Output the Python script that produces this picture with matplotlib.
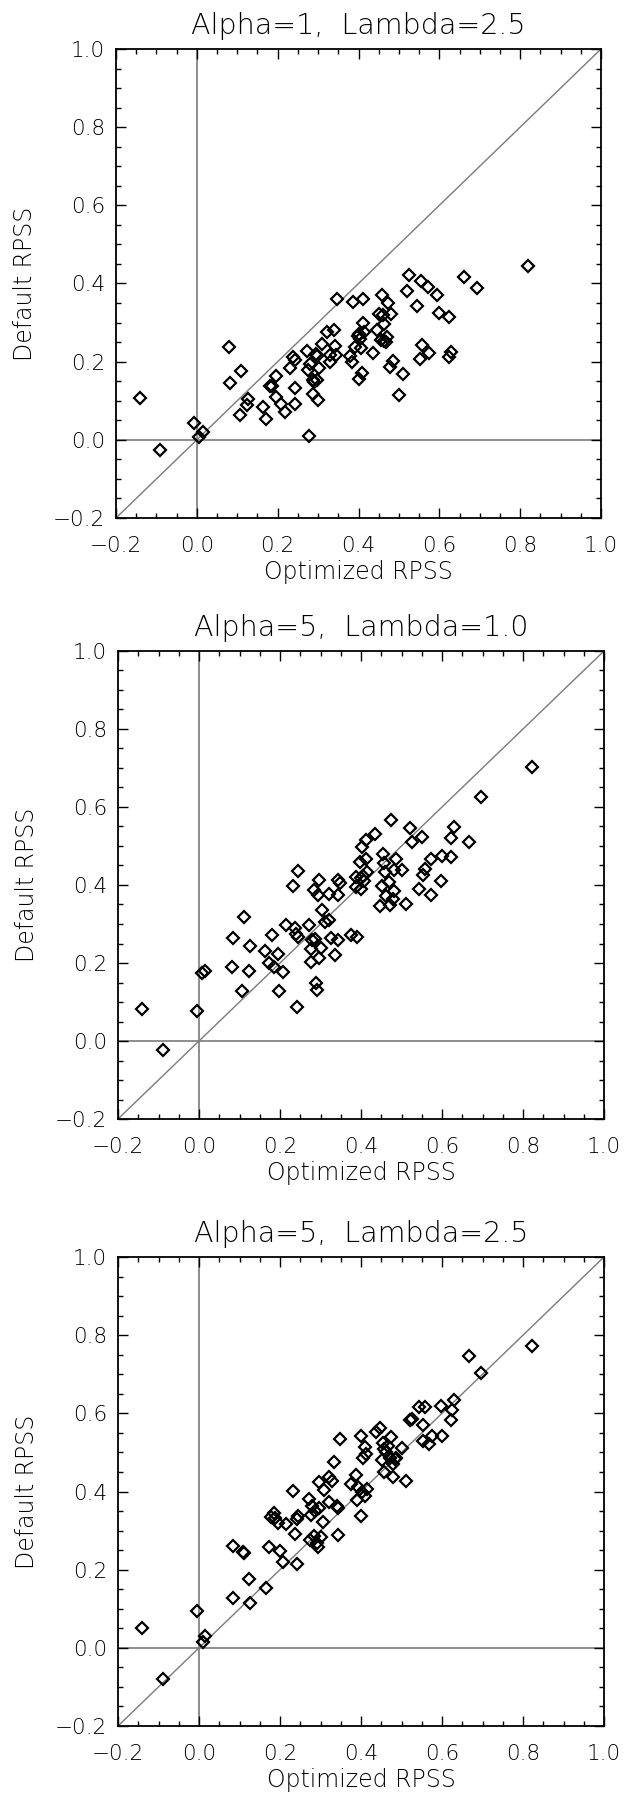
import matplotlib
matplotlib.use("Agg")
import matplotlib.pyplot as plt
from matplotlib.ticker import MultipleLocator

plt.rcParams['font.family'] = ['DejaVu Sans']
plt.rcParams['font.weight'] = 200
plt.rcParams['axes.titleweight'] = 200
plt.rcParams['axes.labelweight'] = 200

titles = ["Alpha=1,  Lambda=2.5", "Alpha=5,  Lambda=1.0", "Alpha=5,  Lambda=2.5"]
x_label = "Optimized RPSS"
y_label = "Default RPSS"

opt1 = [-0.141, -0.090, -0.007, 0.005, 0.016, 0.080, 0.082, 0.109, 0.106, 0.123,
        0.127, 0.163, 0.171, 0.181, 0.185, 0.195, 0.197, 0.208, 0.217, 0.231,
        0.237, 0.244, 0.242, 0.242, 0.272, 0.274, 0.279, 0.277, 0.287, 0.289,
        0.287, 0.295, 0.298, 0.298, 0.300, 0.303, 0.309, 0.323, 0.329, 0.330,
        0.339, 0.343, 0.344, 0.347, 0.378, 0.385, 0.387, 0.392, 0.399, 0.400,
        0.400, 0.403, 0.406, 0.409, 0.410, 0.410, 0.414, 0.436, 0.447, 0.451,
        0.455, 0.459, 0.461, 0.462, 0.464, 0.469, 0.471, 0.473, 0.477, 0.480,
        0.485, 0.500, 0.510, 0.519, 0.525, 0.544, 0.551, 0.554, 0.557, 0.571,
        0.574, 0.595, 0.599, 0.623, 0.623, 0.629, 0.662, 0.694, 0.820]
def1 = [0.108, -0.026, 0.042, 0.007, 0.020, 0.237, 0.146, 0.177, 0.064, 0.088,
        0.105, 0.084, 0.053, 0.138, 0.138, 0.163, 0.109, 0.091, 0.072, 0.185,
        0.212, 0.204, 0.133, 0.092, 0.228, 0.179, 0.193, 0.009, 0.154, 0.147,
        0.118, 0.219, 0.215, 0.154, 0.103, 0.185, 0.244, 0.277, 0.218, 0.200,
        0.282, 0.239, 0.217, 0.361, 0.215, 0.198, 0.353, 0.238, 0.266, 0.156,
        0.270, 0.257, 0.234, 0.171, 0.361, 0.298, 0.277, 0.222, 0.281, 0.322,
        0.256, 0.371, 0.319, 0.296, 0.253, 0.251, 0.263, 0.350, 0.186, 0.322,
        0.201, 0.115, 0.169, 0.380, 0.421, 0.343, 0.206, 0.406, 0.242, 0.392,
        0.221, 0.370, 0.325, 0.315, 0.211, 0.224, 0.417, 0.388, 0.444]

opt2 = [-0.140, -0.089, -0.006, 0.008, 0.016, 0.083, 0.082, 0.107, 0.110, 0.124,
        0.126, 0.163, 0.173, 0.180, 0.186, 0.196, 0.198, 0.207, 0.216, 0.232,
        0.238, 0.240, 0.244, 0.244, 0.243, 0.272, 0.276, 0.277, 0.279, 0.284,
        0.287, 0.288, 0.291, 0.293, 0.297, 0.297, 0.300, 0.304, 0.311, 0.322,
        0.321, 0.327, 0.335, 0.343, 0.344, 0.344, 0.347, 0.376, 0.387, 0.387,
        0.391, 0.397, 0.399, 0.401, 0.403, 0.405, 0.407, 0.412, 0.413, 0.415,
        0.435, 0.448, 0.453, 0.454, 0.458, 0.459, 0.461, 0.469, 0.472, 0.475,
        0.479, 0.481, 0.481, 0.487, 0.502, 0.511, 0.521, 0.527, 0.543, 0.551,
        0.553, 0.558, 0.573, 0.572, 0.597, 0.600, 0.623, 0.623, 0.630, 0.666,
        0.696, 0.822]
def2 = [0.083, -0.023, 0.078, 0.175, 0.180, 0.265, 0.190, 0.128, 0.317, 0.180,
        0.243, 0.231, 0.201, 0.271, 0.191, 0.223, 0.129, 0.178, 0.297, 0.398,
        0.291, 0.274, 0.435, 0.267, 0.088, 0.298, 0.236, 0.202, 0.259, 0.386,
        0.261, 0.149, 0.131, 0.374, 0.412, 0.212, 0.238, 0.335, 0.304, 0.311,
        0.377, 0.263, 0.220, 0.375, 0.260, 0.412, 0.405, 0.271, 0.421, 0.395,
        0.267, 0.458, 0.419, 0.391, 0.498, 0.424, 0.410, 0.516, 0.467, 0.434,
        0.531, 0.347, 0.398, 0.479, 0.457, 0.433, 0.371, 0.407, 0.350, 0.566,
        0.364, 0.438, 0.384, 0.467, 0.439, 0.352, 0.546, 0.511, 0.391, 0.524,
        0.425, 0.440, 0.375, 0.467, 0.409, 0.474, 0.472, 0.520, 0.549, 0.509,
        0.626, 0.702]

opt3 = [-0.140, -0.089, -0.006, 0.009, 0.015, 0.083, 0.084, 0.108, 0.111, 0.124,
        0.127, 0.165, 0.173, 0.178, 0.186, 0.188, 0.195, 0.199, 0.208, 0.215,
        0.232, 0.238, 0.241, 0.245, 0.243, 0.272, 0.274, 0.277, 0.279, 0.284,
        0.286, 0.291, 0.293, 0.296, 0.297, 0.300, 0.305, 0.308, 0.320, 0.322,
        0.328, 0.334, 0.341, 0.344, 0.343, 0.348, 0.376, 0.387, 0.390, 0.392,
        0.400, 0.399, 0.402, 0.404, 0.410, 0.411, 0.412, 0.416, 0.436, 0.446,
        0.453, 0.455, 0.456, 0.457, 0.461, 0.466, 0.471, 0.475, 0.480, 0.480,
        0.484, 0.487, 0.502, 0.511, 0.521, 0.526, 0.543, 0.552, 0.553, 0.559,
        0.569, 0.575, 0.597, 0.600, 0.623, 0.624, 0.629, 0.666, 0.696, 0.821]
def3 = [0.051, -0.079, 0.093, 0.015, 0.031, 0.127, 0.260, 0.246, 0.242, 0.176,
        0.115, 0.153, 0.257, 0.335, 0.344, 0.331, 0.320, 0.249, 0.220, 0.318,
        0.401, 0.292, 0.330, 0.337, 0.214, 0.381, 0.275, 0.339, 0.362, 0.287,
        0.350, 0.269, 0.259, 0.359, 0.425, 0.283, 0.323, 0.405, 0.436, 0.374,
        0.426, 0.476, 0.364, 0.357, 0.289, 0.534, 0.420, 0.441, 0.379, 0.411,
        0.541, 0.338, 0.400, 0.485, 0.514, 0.389, 0.496, 0.406, 0.553, 0.562,
        0.480, 0.523, 0.450, 0.510, 0.501, 0.516, 0.486, 0.539, 0.436, 0.471,
        0.483, 0.486, 0.512, 0.427, 0.584, 0.586, 0.617, 0.529, 0.570, 0.615,
        0.521, 0.542, 0.620, 0.541, 0.582, 0.608, 0.633, 0.747, 0.704, 0.773]

panels = [(opt1, def1), (opt2, def2), (opt3, def3)]

W, H = 624, 1794
fig = plt.figure(figsize=(W / 100, H / 100), dpi=100)

# axes boxes in pixels: left, top, right, bottom
boxes = [(116, 49, 601, 518), (118, 651, 604, 1119), (118, 1257, 604, 1726)]

gray = '#7a7a7a'
lo, hi = -0.2, 1.0
fmt = plt.FuncFormatter(lambda v, p: f"{v:.1f}".replace('-', '\u2212'))

for (xs, ys), title, (l, t, r, b) in zip(panels, titles, boxes):
    ax = fig.add_axes([l / W, (H - b) / H, (r - l) / W, (b - t) / H])
    ax.set_xlim(lo, hi)
    ax.set_ylim(lo, hi)
    ax.plot([lo, hi], [lo, hi], color=gray, lw=1.0, zorder=1)
    ax.axhline(0.0, color=gray, lw=1.2, zorder=1)
    ax.axvline(0.0, color=gray, lw=1.2, zorder=1)
    ax.plot(xs, ys, linestyle='none', marker='D', markersize=6.0,
            markerfacecolor='none', markeredgecolor='black',
            markeredgewidth=1.6, zorder=3)
    for s in ax.spines.values():
        s.set_linewidth(1.3)
        s.set_color('black')
    ax.xaxis.set_major_locator(MultipleLocator(0.2))
    ax.yaxis.set_major_locator(MultipleLocator(0.2))
    ax.xaxis.set_minor_locator(MultipleLocator(0.05))
    ax.yaxis.set_minor_locator(MultipleLocator(0.05))
    ax.tick_params(which='both', direction='in', top=True, right=True,
                   color='black', width=1.0)
    ax.tick_params(which='major', length=7)
    ax.tick_params(which='minor', length=3.5)
    ax.tick_params(axis='x', which='major', pad=13, labelsize=15.5)
    ax.tick_params(axis='y', which='major', pad=8, labelsize=15.5)
    ax.xaxis.set_major_formatter(fmt)
    ax.yaxis.set_major_formatter(fmt)
    ax.set_title(title, fontsize=20.5, pad=11, fontweight=200)
    ax.set_xlabel(x_label, fontsize=17, labelpad=3, fontweight=200)
    ax.set_ylabel(y_label, fontsize=17, labelpad=11, fontweight=200)

fig.savefig("out.png", dpi=100)
